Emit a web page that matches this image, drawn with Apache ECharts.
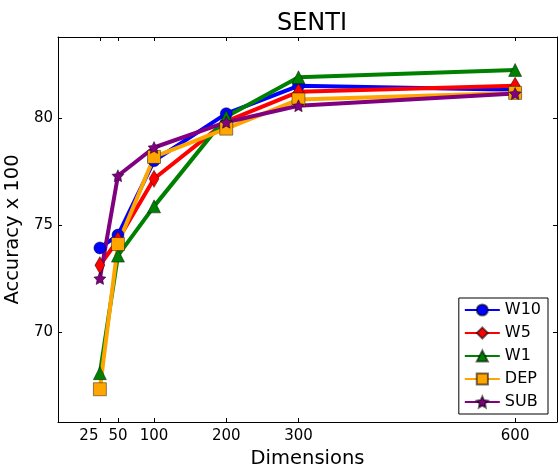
<!DOCTYPE html>
<html>
<head>
<meta charset="utf-8">
<script src="https://cdn.jsdelivr.net/npm/echarts@6/dist/echarts.min.js"></script>
<style>
    html, body { margin: 0; padding: 0; background: #fff; }
    #chart { width: 558px; height: 465px; }
</style>
</head>
<body>
<div id="chart"></div>
<script>
// values
const dims = [25, 50, 100, 200, 300, 600]
const yTicks = [70, 75, 80]
const w10 = [73.93, 74.53, 78.0, 80.2, 81.5, 81.32]
const w5 = [73.12, 74.3, 77.16, 79.84, 81.22, 81.5]
const w1 = [68.08, 73.57, 75.87, 80.05, 81.9, 82.24]
const dep = [67.33, 74.11, 78.18, 79.5, 80.86, 81.17]
const sub = [72.5, 77.3, 78.62, 79.8, 80.57, 81.14]

const starPath = 'path://M0,-10 L2.94,-4.05 9.51,-3.09 4.76,1.55 5.88,8.09 0,5 -5.88,8.09 -4.76,1.55 -9.51,-3.09 -2.94,-4.05 Z'
const font = 'DejaVu Sans'

function pairs(vals) {
    return dims.map((d, i) => [d, vals[i]])
}

function makeSeries(name, vals, color, symbol, size) {
    return {
        type: 'line',
        name: name,
        data: pairs(vals),
        symbol: symbol,
        symbolSize: size,
        showAllSymbol: true,
        lineStyle: { color: color, width: 4 },
        itemStyle: { color: color, borderColor: 'rgba(0,0,0,0.55)', borderWidth: 0.8 },
        emphasis: { disabled: true },
        animation: false
    }
}

const axisLine = { show: true, onZero: false, lineStyle: { color: '#000', width: 1 } }
// inside:true hid the custom ticks, so point them inward with a negative length
const axisTick = (vals) => ({
    show: true,
    inside: false,
    length: -4,
    customValues: vals,
    lineStyle: { color: '#000', width: 1 }
})

let chart = echarts.init(document.getElementById('chart'), null, { renderer: 'canvas' })
let option = {
    backgroundColor: '#fff',
    textStyle: { fontFamily: font },
    title: {
        text: 'SENTI',
        left: 307,
        textAlign: 'center',
        top: 7,
        textStyle: { fontFamily: font, fontSize: 24, fontWeight: 'normal', color: '#000' }
    },
    grid: {
        left: 58,
        top: 37,
        right: 1,
        bottom: 43,
        outerBoundsMode: 'none',
        containLabel: false,
        show: false
    },
    legend: {
        orient: 'vertical',
        right: 10,
        bottom: 51,
        width: 80,
        itemWidth: 35,
        itemHeight: 14,
        itemGap: 7,
        padding: [4, 7, 4, 5],
        borderColor: '#000',
        borderWidth: 1,
        backgroundColor: '#fff',
        textStyle: { fontFamily: font, fontSize: 16, color: '#000' },
        data: ['W10', 'W5', 'W1', 'DEP', 'SUB']
    },
    xAxis: [{
        type: 'value',
        min: -33,
        max: 658,
        name: 'Dimensions',
        nameLocation: 'middle',
        nameGap: 24,
        nameTextStyle: { fontFamily: font, fontSize: 19.5, color: '#000' },
        axisLine: axisLine,
        axisTick: axisTick(dims),
        splitLine: { show: false },
        axisLabel: {
            customValues: dims,
            margin: 7,
            fontFamily: font,
            fontSize: 15,
            color: '#000',
            formatter: v => v === 25 ? '{l|25}' : String(v),
            rich: { l: { fontFamily: font, fontSize: 15, color: '#000', padding: [0, 22, 0, 0] } }
        }
    }, {
        type: 'value',
        position: 'top',
        min: -33,
        max: 658,
        axisLine: axisLine,
        axisTick: axisTick(dims),
        axisLabel: { show: false, customValues: dims },
        splitLine: { show: false }
    }],
    yAxis: [{
        type: 'value',
        min: 65.8,
        max: 83.78,
        name: 'Accuracy x 100',
        nameLocation: 'middle',
        nameGap: 28,
        nameTextStyle: { fontFamily: font, fontSize: 19.5, color: '#000' },
        axisLine: axisLine,
        axisTick: axisTick(yTicks),
        splitLine: { show: false },
        axisLabel: {
            customValues: yTicks,
            margin: 5,
            fontFamily: font,
            fontSize: 15,
            color: '#000'
        }
    }, {
        type: 'value',
        position: 'right',
        min: 65.8,
        max: 83.78,
        axisLine: axisLine,
        axisTick: axisTick(yTicks),
        axisLabel: { show: false, customValues: yTicks },
        splitLine: { show: false }
    }],
    series: [
        makeSeries('W10', w10, '#0000ff', 'circle', 12),
        makeSeries('W5', w5, '#ff0000', 'diamond', [10, 17]),
        makeSeries('W1', w1, '#008000', 'triangle', 13),
        makeSeries('DEP', dep, '#ffa500', 'rect', 13),
        makeSeries('SUB', sub, '#800080', starPath, 12)
    ]
}
chart.setOption(option, true)
</script>
</body>
</html>
